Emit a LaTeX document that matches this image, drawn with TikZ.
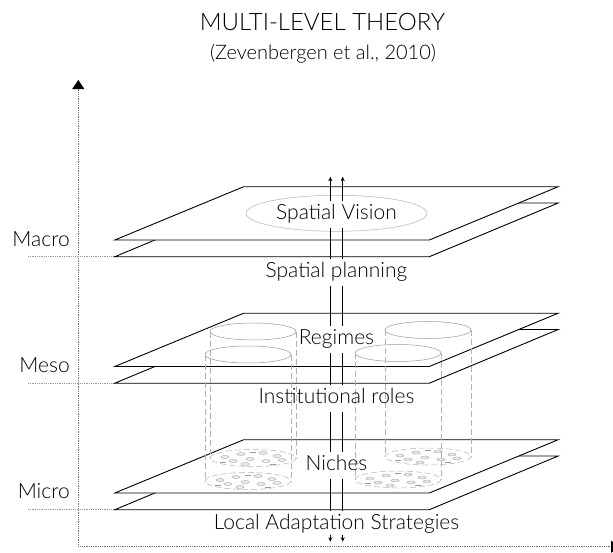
\documentclass[tikz,border=0pt]{standalone}
\usepackage{fontspec}
\setmainfont{Lato}[UprightFont=* Light]
\usetikzlibrary{arrows.meta}
\tikzset{
    sheet/.style={ % one layer of a level plane
        draw,
        fill=white,
        line width=0.9pt
    },
    axis/.style={ % dotted axes with a filled head
        draw=black!55,
        line width=0.9pt,
        dash pattern=on 0.9pt off 0.9pt,
        -{Triangle[width=12pt,length=9pt,black]}
    },
    guide/.style={draw=black!40, line width=0.7pt, dash pattern=on 0.8pt off 1pt},
    link/.style={draw, line width=0.9pt},
    tube/.style={draw=black!40, line width=0.5pt},
    tubeside/.style={draw=black!30, line width=0.5pt, dash pattern=on 6pt off 3pt},
    speck/.style={draw=black!35, fill=black!8, line width=0.4pt},
    label/.style={ % text on the connector pair
        font=\fontsize{21}{25}\selectfont,
        anchor=base,
        inner xsep=2pt,
        inner ysep=4pt,
        text height=14.5pt,
        text depth=4pt
    },
    level/.style={font=\fontsize{21}{25}\selectfont, anchor=base east, inner sep=0pt},
    title/.style={font=\fontsize{24}{28}\selectfont, anchor=base},
    subtitle/.style={font=\fontsize{20}{24}\selectfont, anchor=base}
}

\begin{document}
\begin{tikzpicture}[x=1pt, y=-1pt]
    \useasboundingbox (0,0) rectangle (613,552);

    % heading
    \node[title] (title) at (322.5,30) {MULTI-LEVEL THEORY};
    \node[subtitle] (source) at (323,59) {(Zevenbergen et al., 2010)};

    % axes
    \coordinate (origin) at (78.3,546.7);
    \coordinate (ytip) at (78.3,80);
    \coordinate (xtip) at (620,546.7);
    \draw[axis] (origin) -- (ytip);
    \draw[axis] (origin) -- (xtip);

    % level names and their guide lines
    \node[level] (macro) at (70,246.7) {Macro};
    \node[level] (meso) at (70,372) {Meso};
    \node[level] (micro) at (70,498) {Micro};
    \foreach \name/\o in {macro/0, meso/126.5, micro/253} {
        \coordinate (\name-l) at (28,{256.7+\o});
        \coordinate (\name-c) at (114.8,{256.7+\o});
        \draw[guide] (\name-l) -- (\name-c);
    }

    % planes: lower sheet first, upper sheet on top
    \foreach \o in {0,126.5,253} {
        \draw[sheet] (114.8,{256.7+\o}) -- (429.3,{256.7+\o}) -- (558.2,{203+\o}) -- (243.7,{203+\o}) -- cycle;
        \draw[sheet] (114.8,{240+\o}) -- (429.3,{240+\o}) -- (558.2,{186.7+\o}) -- (243.7,{186.7+\o}) -- cycle;
    }

    % vision ring
    \draw[tube, draw=black!30] (336.5,213.3) ellipse [x radius=90.5, y radius=18];

    % cylinders from regimes down to niches
    \foreach \cx/\cy in {253/331.5, 248/354.5, 428/330, 398/353} {
        \draw[tube] (\cx,\cy) ellipse [x radius=43, y radius=8.5];
        \draw[tubeside] ({\cx-43},\cy) -- ({\cx-43},{\cy+126.5});
        \draw[tubeside] ({\cx+43},\cy) -- ({\cx+43},{\cy+126.5});
        \draw[tubeside] (\cx,{\cy+126.5}) ellipse [x radius=43, y radius=8.5];
        \foreach \dx/\dy in {-28/-1, -12/-4, 10/-5, 24/-2, -20/3, -3/1, 13/3, 29/2, -8/6}
            \draw[speck] ({\cx+\dx},{\cy+126.5+\dy}) ellipse [x radius=4, y radius=1.5];
        \foreach \dx/\dy in {0/-6, -30/4, 20/6}
            \draw[tube] ({\cx+\dx-3},{\cy+126.5+\dy}) -- ({\cx+\dx+3},{\cy+126.5+\dy});
    }

    % labels on the connector pair
    \coordinate (top) at (336.5,176.7);
    \coordinate (bottom) at (336.5,541.7);
    \node[label] (vision) at (336.5,219.3) {Spatial Vision};
    \node[label] (planning) at (336.5,277.7) {Spatial planning};
    \node[label] (regimes) at (336.5,344.5) {Regimes};
    \node[label] (roles) at (336.5,403.3) {Institutional roles};
    \node[label] (niches) at (336.5,470.7) {Niches};
    \node[label, text depth=1pt] (local) at (336.5,529.3) {Local Adaptation Strategies};

    % connector pair
    \foreach \s in {-6.2,6.2} {
        \draw[link, -{Stealth[length=4.5pt,width=4pt]}] ([xshift=\s]vision.north) -- ([xshift=\s]top);
        \foreach \a/\b in {vision/planning, planning/regimes, regimes/roles, roles/niches, niches/local}
            \draw[link] ([xshift=\s]\a.south) -- ([xshift=\s]\b.north);
        \draw[link, -{Stealth[length=4.5pt,width=4pt]}] ([xshift=\s]local.south) -- ([xshift=\s]bottom);
    }
\end{tikzpicture}
\end{document}
